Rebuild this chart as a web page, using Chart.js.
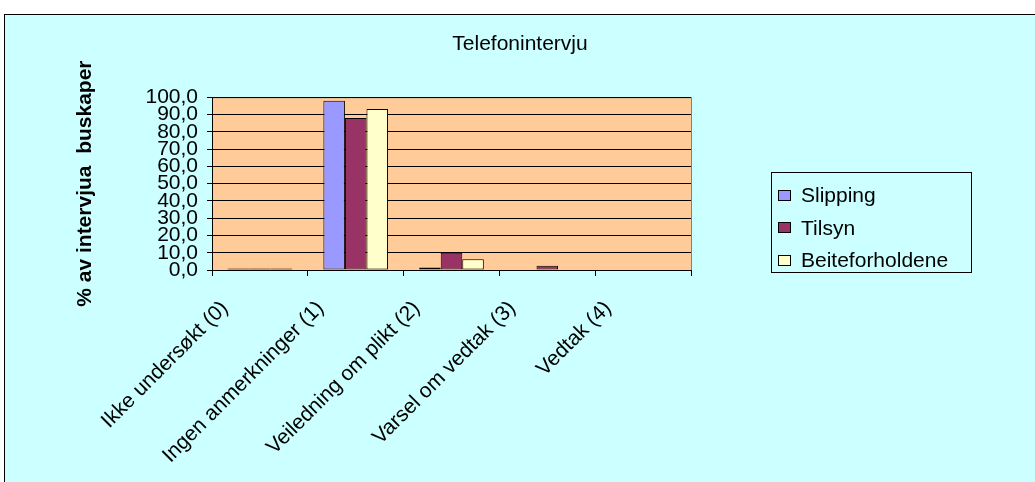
<!DOCTYPE html>
<html>
<head>
<meta charset="utf-8">
<script src="https://cdn.jsdelivr.net/npm/chart.js@4/dist/chart.umd.min.js"></script>
<style>
  body { margin: 0; background: #fff; font-family: "Liberation Sans", Arial, sans-serif; }
  #frame { position: absolute; left: 4px; top: 14px; width: 1040px; height: 480px; border: 1px solid #000; background: #ccffff; }
  #chart { position: absolute; left: 0; top: 0; }
  #legend { position: absolute; left: 766px; top: 157px; width: 201px; height: 101px; box-sizing: border-box; border: 1px solid #000; padding-top: 6px; }
  .item { height: 32.5px; display: flex; align-items: center; font-size: 21px; color: #000; }
  .swatch { width: 13px; height: 11px; border: 1px solid #000; margin-left: 6px; margin-right: 10px; box-sizing: border-box; }
</style>
</head>
<body>
<div id="frame">
  <canvas id="chart" width="1030" height="467"></canvas>
  <div id="legend"></div>
</div>
<script>
const categories = ['Ikke undersøkt (0)', 'Ingen anmerkninger (1)', 'Veiledning om plikt (2)', 'Varsel om vedtak (3)', 'Vedtak (4)'];
const seriesNames = ['Slipping', 'Tilsyn', 'Beiteforholdene'];
const slipping = [0.8, 97.9, 1.5, 0, 0];
const tilsyn = [0.8, 87.9, 10.0, 2.5, 0];
const beite = [0.8, 93.1, 6.2, 0, 0];
const colors = ['#9999ff', '#993366', '#ffffcc'];

const plotBg = {
   id: 'plotBg',
   beforeDraw(chart) {
      const { ctx, chartArea: a } = chart;
      ctx.save();
      ctx.fillStyle = '#ffcc99';
      ctx.fillRect(a.left, a.top, a.right - a.left, a.bottom - a.top);
      ctx.strokeStyle = '#808080';
      ctx.lineWidth = 1;
      ctx.strokeRect(a.left + 0.5, a.top + 0.5, a.right - a.left, a.bottom - a.top);
      ctx.restore();
   }
};

const fontFam = '"Liberation Sans", Arial, sans-serif';

const chart = new Chart(document.getElementById('chart'), {
   type: 'bar',
   data: {
      labels: categories,
      datasets: [slipping, tilsyn, beite].map((d, i) => ({
         label: seriesNames[i],
         data: d,
         backgroundColor: colors[i],
         borderColor: '#000',
         borderWidth: 1,
         borderSkipped: false,
         barPercentage: 1,
         categoryPercentage: 0.675
      }))
   },
   options: {
      responsive: false,
      animation: false,
      layout: { padding: 0 },
      plugins: {
         legend: { display: false },
         tooltip: { enabled: false },
         title: {
            display: true,
            text: 'Telefonintervju',
            color: '#000',
            font: { family: fontFam, size: 21, weight: 'normal' },
            padding: { top: 17, bottom: 40 }
         }
      },
      scales: {
         x: {
            afterFit: s => { s.height = 212 },
            grid: { display: true, drawOnChartArea: false, offset: true, color: '#000', tickLength: 6 },
            border: { color: '#000' },
            ticks: {
               autoSkip: false,
               minRotation: 45,
               maxRotation: 45,
               labelOffset: -35,
               padding: 20,
               color: '#000',
               font: { family: fontFam, size: 21 }
            }
         },
         y: {
            min: 0,
            max: 100,
            afterFit: s => { s.width = 207 },
            grid: { color: '#000', tickLength: 5 },
            border: { color: '#000' },
            ticks: {
               stepSize: 10,
               autoSkip: false,
               padding: 9,
               color: '#000',
               font: { family: fontFam, size: 21 },
               callback: v => v.toFixed(1).replace('.', ',')
            },
            title: {
               display: true,
               text: '% av intervjua  buskaper',
               color: '#000',
               font: { family: fontFam, size: 21, weight: 'bold' },
               padding: { top: 68, bottom: 0 }
            }
         },
         // empty space on the right where the legend sits
         side: {
            position: 'right',
            afterFit: s => { s.width = 344 },
            grid: { display: false },
            border: { display: false },
            ticks: { display: false }
         }
      }
   },
   plugins: [plotBg]
});

const legend = document.getElementById('legend');
chart.data.datasets.forEach(ds => {
   const row = document.createElement('div');
   row.className = 'item';
   row.innerHTML = `<span class="swatch" style="background:${ds.backgroundColor}"></span>${ds.label}`;
   legend.appendChild(row);
});
</script>
</body>
</html>
